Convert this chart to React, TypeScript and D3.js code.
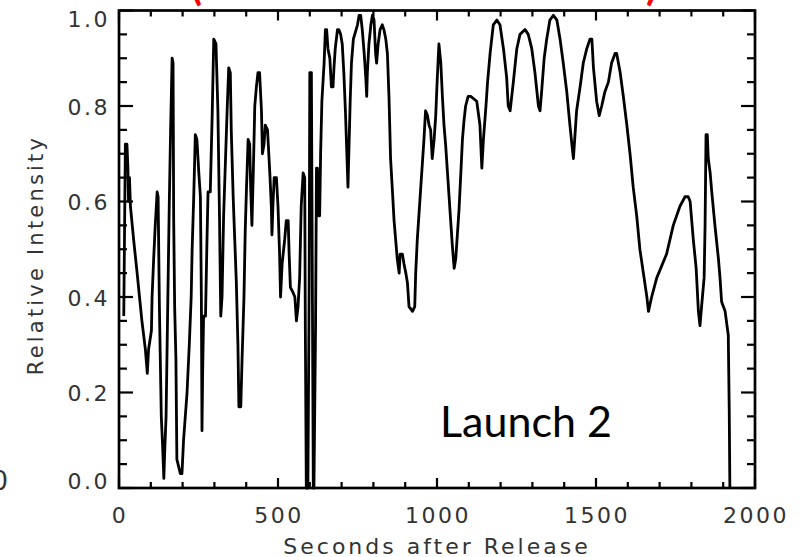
import React from "react";
import * as d3 from "d3";

const seconds = [
  15, 20, 25, 28, 30, 33, 36, 46, 57, 72, 83, 89, 93, 102, 104, 109, 114, 120, 123, 127,
  133, 137, 141, 144, 148, 153, 158, 162, 167, 170, 172, 175, 179, 182, 193, 198, 203, 214, 221, 227,
  230, 235, 240, 245, 251, 256, 259, 261, 263, 266, 272, 277, 280, 287, 293, 298, 305, 311, 316, 320,
  324, 329, 340, 345, 350, 353, 359, 364, 369, 374, 377, 383, 387, 393, 397, 401, 406, 411, 414, 418,
  423, 427, 432, 437, 442, 448, 451, 456, 460, 467, 471, 475, 479, 481, 484, 488, 495, 500, 505, 508,
  513, 521, 526, 532, 535, 539, 547, 553, 558, 563, 568, 573, 579, 584, 586, 589, 594, 598, 600, 605,
  608, 611, 613, 618, 621, 624, 628, 631, 634, 638, 645, 649, 653, 657, 663, 668, 673, 676, 680, 687,
  691, 697, 702, 707, 712, 715, 720, 727, 731, 737, 750, 755, 760, 765, 771, 776, 779, 781, 786, 792,
  797, 802, 807, 810, 815, 821, 828, 833, 839, 844, 849, 854, 860, 865, 870, 875, 881, 884, 891, 896,
  902, 907, 912, 923, 930, 933, 938, 944, 949, 954, 959, 964, 970, 975, 980, 985, 991, 996, 1001, 1006,
  1012, 1017, 1022, 1027, 1033, 1038, 1043, 1048, 1054, 1059, 1064, 1069, 1075, 1080, 1085, 1090, 1098, 1106, 1125, 1135,
  1141, 1146, 1154, 1159, 1167, 1177, 1188, 1198, 1209, 1219, 1224, 1230, 1240, 1251, 1261, 1277, 1287, 1298, 1308, 1319,
  1324, 1329, 1337, 1345, 1355, 1366, 1377, 1387, 1397, 1408, 1418, 1424, 1429, 1434, 1439, 1450, 1460, 1471, 1481, 1487,
  1492, 1502, 1510, 1518, 1528, 1539, 1549, 1560, 1565, 1576, 1586, 1597, 1607, 1617, 1628, 1638, 1649, 1660, 1665, 1675,
  1691, 1722, 1743, 1764, 1780, 1790, 1796, 1806, 1815, 1822, 1827, 1832, 1840, 1843, 1846, 1850, 1853, 1859, 1864, 1874,
  1885, 1890, 1895, 1906, 1916, 1919, 1921,
];

const intensity = [
  0.36, 0.72, 0.72, 0.67, 0.6, 0.65, 0.59, 0.52, 0.45, 0.35, 0.29, 0.24, 0.29, 0.33, 0.4, 0.48, 0.55, 0.62, 0.61, 0.38,
  0.15, 0.09, 0.02, 0.08, 0.15, 0.37, 0.59, 0.74, 0.9, 0.89, 0.56, 0.38, 0.27, 0.06, 0.03, 0.03, 0.1, 0.2, 0.3, 0.4,
  0.5, 0.61, 0.74, 0.73, 0.66, 0.61, 0.4, 0.12, 0.24, 0.36, 0.36, 0.53, 0.62, 0.62, 0.78, 0.94, 0.93, 0.79, 0.57, 0.36,
  0.4, 0.57, 0.79, 0.88, 0.87, 0.75, 0.61, 0.52, 0.43, 0.3, 0.17, 0.17, 0.27, 0.4, 0.54, 0.63, 0.73, 0.72, 0.63, 0.55,
  0.68, 0.8, 0.84, 0.87, 0.87, 0.79, 0.7, 0.72, 0.76, 0.75, 0.7, 0.65, 0.59, 0.53, 0.59, 0.65, 0.65, 0.59, 0.49, 0.4,
  0.47, 0.52, 0.56, 0.56, 0.49, 0.42, 0.41, 0.4, 0.35, 0.38, 0.44, 0.59, 0.66, 0.65, 0.33, 0.0, 0.0, 0.43, 0.87, 0.87,
  0.43, 0.0, 0.0, 0.33, 0.67, 0.67, 0.57, 0.57, 0.7, 0.81, 0.89, 0.96, 0.96, 0.92, 0.9, 0.84, 0.84, 0.88, 0.92, 0.96,
  0.96, 0.95, 0.93, 0.87, 0.79, 0.73, 0.63, 0.81, 0.89, 0.94, 0.97, 0.99, 0.99, 0.96, 0.91, 0.86, 0.82, 0.87, 0.93, 0.97,
  0.99, 0.98, 0.91, 0.89, 0.93, 0.96, 0.97, 0.96, 0.94, 0.91, 0.82, 0.69, 0.62, 0.56, 0.52, 0.48, 0.45, 0.49, 0.49, 0.47,
  0.45, 0.43, 0.38, 0.37, 0.38, 0.45, 0.52, 0.58, 0.63, 0.68, 0.73, 0.79, 0.78, 0.76, 0.75, 0.69, 0.73, 0.78, 0.86, 0.93,
  0.89, 0.82, 0.76, 0.72, 0.66, 0.61, 0.56, 0.51, 0.46, 0.48, 0.53, 0.58, 0.66, 0.73, 0.77, 0.8, 0.82, 0.82, 0.81, 0.76,
  0.67, 0.73, 0.8, 0.85, 0.91, 0.97, 0.98, 0.97, 0.92, 0.86, 0.8, 0.79, 0.85, 0.92, 0.95, 0.96, 0.95, 0.92, 0.87, 0.8,
  0.79, 0.83, 0.9, 0.94, 0.98, 0.99, 0.98, 0.94, 0.89, 0.83, 0.76, 0.72, 0.69, 0.74, 0.79, 0.84, 0.89, 0.92, 0.94, 0.94,
  0.88, 0.81, 0.78, 0.8, 0.83, 0.85, 0.89, 0.91, 0.91, 0.87, 0.82, 0.76, 0.7, 0.63, 0.57, 0.5, 0.45, 0.4, 0.37, 0.4,
  0.44, 0.49, 0.55, 0.59, 0.61, 0.61, 0.6, 0.52, 0.46, 0.37, 0.34, 0.38, 0.44, 0.55, 0.74, 0.74, 0.69, 0.66, 0.62, 0.55,
  0.48, 0.44, 0.39, 0.37, 0.32, 0.16, 0.0,
];

const xTickValues = [0, 500, 1000, 1500, 2000];
const xTickLabels = ["0", "500", "1000", "1500", "2000"];
const yTickValues = [0, 0.2, 0.4, 0.6, 0.8, 1.0];
const yTickLabels = ["0.0", "0.2", "0.4", "0.6", "0.8", "1.0"];

const xTitle = "Seconds after Release";
const yTitle = "Relative Intensity";
const annotation = "Launch 2";

const W = 804;
const H = 557;
const left = 119;
const right = 755;
const top = 10.5;
const bottom = 488;

export default function App() {
  const x = d3.scaleLinear().domain([0, 2000]).range([left, right]);
  const y = d3.scaleLinear().domain([0, 1]).range([bottom, top]);
  const pts: [number, number][] = seconds.map((s, i) => [s, intensity[i]]);
  const line = d3
    .line<[number, number]>()
    .x((d) => x(d[0]))
    .y((d) => y(d[1]));

  const xMinor = d3.range(0, 2001, 100);
  const yMinor = d3.range(0, 1.0001, 0.05);
  const isMajorX = (v: number) => Math.abs(v % 500) < 1e-6;
  const isMajorY = (v: number) => Math.abs(Math.round(v * 100) % 20) === 0;

  const font = "'DejaVu Sans', sans-serif";
  const textColor = "#333";

  return (
    <svg
      width={W}
      height={H}
      style={{ position: "absolute", left: 0, top: 0, background: "#fff" }}
    >
      <rect x={0} y={0} width={W} height={H} fill="#fff" />
      {/* cropped red title pieces */}
      <text x={191} y={0} fontFamily="Lato, sans-serif" fontWeight={700} fontSize={40} fill="#ff0000">(</text>
      <text x={646} y={0} fontFamily="Lato, sans-serif" fontWeight={700} fontSize={40} fill="#ff0000">)</text>
      {/* cropped neighbour label */}
      <text x={8} y={490} textAnchor="end" fontFamily={font} fontSize={26} fill={textColor}>0</text>

      {/* ticks */}
      {xMinor.map((v) => {
        const len = isMajorX(v) ? 10 : 6;
        return (
          <g key={"xt" + v}>
            <line x1={x(v)} x2={x(v)} y1={bottom} y2={bottom - len} stroke="#000" strokeWidth={2.2} />
            <line x1={x(v)} x2={x(v)} y1={top} y2={top + len} stroke="#000" strokeWidth={2.2} />
          </g>
        );
      })}
      {yMinor.map((v) => {
        const len = isMajorY(v) ? 14 : 8;
        return (
          <g key={"yt" + v.toFixed(2)}>
            <line x1={left} x2={left + len} y1={y(v)} y2={y(v)} stroke="#000" strokeWidth={2.2} />
            <line x1={right} x2={right - len} y1={y(v)} y2={y(v)} stroke="#000" strokeWidth={2.2} />
          </g>
        );
      })}

      {/* data */}
      <path d={line(pts) || ""} fill="none" stroke="#000" strokeWidth={2.8} strokeLinejoin="round" />

      {/* frame */}
      <rect x={left} y={top} width={right - left} height={bottom - top} fill="none" stroke="#000" strokeWidth={2.7} />

      {/* tick labels */}
      {xTickValues.map((v, i) => (
        <text
          key={"xl" + v}
          x={x(v) + 1}
          y={523}
          textAnchor="middle"
          fontFamily={font}
          fontSize={22}
          letterSpacing={2.5}
          fill={textColor}
        >
          {xTickLabels[i]}
        </text>
      ))}
      {yTickValues.map((v, i) => {
        const cy = Math.min(480, Math.max(18.5, y(v)));
        return (
          <text
            key={"yl" + v}
            x={110}
            y={cy + 8.5}
            textAnchor="end"
            fontFamily={font}
            fontSize={22}
            letterSpacing={2.5}
            fill={textColor}
          >
            {yTickLabels[i]}
          </text>
        );
      })}

      {/* axis titles */}
      <text
        x={437}
        y={554}
        textAnchor="middle"
        fontFamily={font}
        fontSize={22}
        letterSpacing={3}
        fill={textColor}
      >
        {xTitle}
      </text>
      <text
        transform={`translate(43, 255) rotate(-90)`}
        textAnchor="middle"
        fontFamily={font}
        fontSize={21}
        letterSpacing={3.2}
        fill={textColor}
      >
        {yTitle}
      </text>

      {/* annotation */}
      <text x={440} y={437} fontFamily="Lato, sans-serif" fontSize={43} fill="#000">
        {annotation}
      </text>
    </svg>
  );
}
